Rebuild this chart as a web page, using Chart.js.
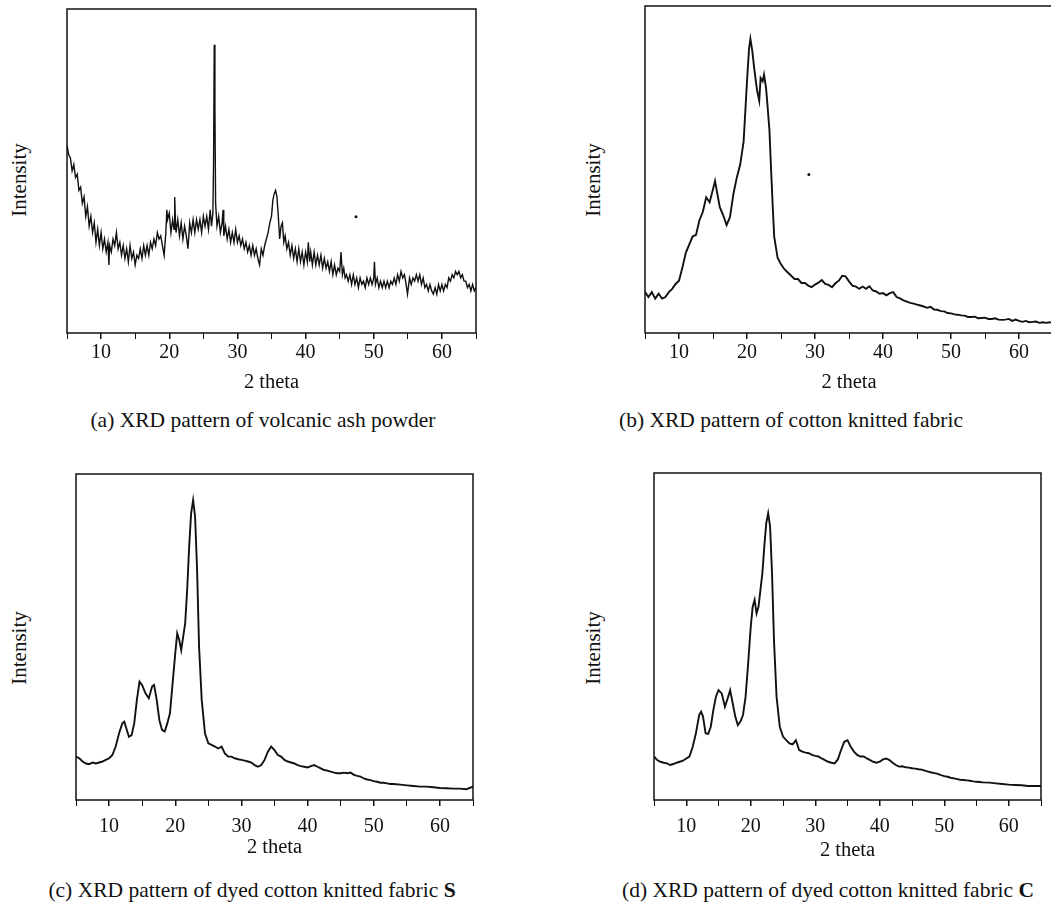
<!DOCTYPE html>
<html>
<head>
<meta charset="utf-8">
<script src="https://cdn.jsdelivr.net/npm/chart.js@4.4.1/dist/chart.umd.min.js"></script>
<style>
  html, body { margin: 0; padding: 0; background: #fff; overflow: hidden; }
  body { position: relative; width: 1051px; height: 902px; }
  canvas { position: absolute; }
  .lbl { position: absolute; font-family: "Liberation Serif", "Times New Roman", serif; color: #111; white-space: nowrap; transform: translate(-50%, -50%); }
  .ylab { font-size: 21px; transform: translate(-50%, -50%) rotate(-90deg); }
  .cap { font-size: 21.5px; }
</style>
</head>
<body>
<canvas id="chartA"></canvas>
<canvas id="chartB"></canvas>
<canvas id="chartC"></canvas>
<canvas id="chartD"></canvas>

<div class="lbl ylab" style="left:19px; top:180px;">Intensity</div>
<div class="lbl ylab" style="left:593px; top:180px;">Intensity</div>
<div class="lbl ylab" style="left:19px; top:648px;">Intensity</div>
<div class="lbl ylab" style="left:593px; top:648px;">Intensity</div>

<div class="lbl cap" style="left:263px; top:420px;">(a) XRD pattern of volcanic ash powder</div>
<div class="lbl cap" style="left:791px; top:420px;">(b) XRD pattern of cotton knitted fabric</div>
<div class="lbl cap" style="left:252px; top:890px;">(c) XRD pattern of dyed cotton knitted fabric <b>S</b></div>
<div class="lbl cap" style="left:828px; top:890px;">(d) XRD pattern of dyed cotton knitted fabric <b>C</b></div>

<script>
// (a) volcanic ash powder - noisy, read as the upper/lower edges of the band
const ashAngle = [
  5,5.25,5.5,5.75,6,6.25,6.5,6.75,7,7.25,
  7.5,7.75,8,8.25,8.5,8.75,9,9.25,9.5,9.75,
  10,10.25,10.5,10.75,11,11.15,11.25,11.5,11.75,12,
  12.25,12.5,12.75,13,13.25,13.5,13.75,14,14.25,14.5,
  14.75,15,15.25,15.5,15.75,16,16.25,16.5,16.75,17,
  17.25,17.5,17.75,18,18.25,18.5,18.75,19,19.25,19.5,
  19.65,19.75,20,20.25,20.5,20.7,20.8,20.9,21,21.25,
  21.5,21.75,22,22.25,22.5,22.75,23,23.25,23.5,23.75,
  24,24.25,24.5,24.75,25,25.25,25.5,25.75,26,26.2,
  26.4,26.5,26.6,26.7,26.8,27,27.25,27.5,27.75,27.9,
  28,28.25,28.5,28.75,29,29.25,29.5,29.75,30,30.25,
  30.5,30.75,31,31.25,31.5,31.75,32,32.25,32.5,32.75,
  33,33.25,33.5,33.75,34,34.25,34.5,34.75,35,35.2,
  35.4,35.6,35.8,36,36.2,36.4,36.6,36.8,37,37.25,
  37.5,37.75,38,38.25,38.5,38.75,39,39.25,39.5,39.75,
  40,40.25,40.4,40.6,40.75,41,41.25,41.5,41.75,42,
  42.25,42.5,42.75,43,43.25,43.5,43.75,44,44.25,44.5,
  44.75,45,45.2,45.4,45.6,45.8,46,46.25,46.5,46.75,
  47,47.25,47.5,47.75,48,48.25,48.5,48.75,49,49.25,
  49.5,49.75,50,50.1,50.25,50.5,50.75,51,51.25,51.5,
  51.75,52,52.25,52.5,52.75,53,53.25,53.5,53.75,54,
  54.25,54.5,54.75,54.95,55.25,55.5,55.75,56,56.25,56.5,
  56.75,57,57.25,57.5,57.75,58,58.25,58.5,58.75,59,
  59.25,59.5,59.75,60,60.25,60.5,60.75,61,61.25,61.5,
  61.75,62,62.25,62.5,62.75,63,63.25,63.5,63.75,64,
  64.25,64.5,64.75,65
];
const ashIntensity = [
  58,55,54,50,52,48,49,44,45,40,
  42,36,39,33,36,31,34,28,32,27,
  31,26,29,25,28,21,27,25,29,27,
  31,26,28,24,27,23,26,22,27,23,
  25,21,24,23,26,23,27,24,27,24,
  28,26,29,27,31,29,30,27,24,31,
  38,35,37,31,35,32,42,35,31,35,
  30,34,29,33,30,26,34,31,35,31,
  35,32,35,31,36,33,36,32,38,33,
  37,52,89,70,40,33,36,31,34,38,
  30,33,29,32,28,31,28,32,28,30,
  27,29,26,28,25,27,24,27,24,26,
  23,21,26,24,27,29,31,34,36,41,
  43,44,42,36,29,33,34,28,30,26,
  28,24,27,23,26,22,26,22,25,21,
  25,22,28,22,25,21,25,21,24,21,
  24,20,23,20,22,19,22,18,21,18,
  20,19,25,18,20,17,18,16,18,15,
  18,15,17,14,17,15,16,14,17,15,
  17,15,17,22,15,17,14,16,14,16,
  14,16,14,16,15,17,15,18,16,19,
  17,18,15,12,17,15,17,16,18,16,
  18,15,17,14,15,13,15,13,12,14,
  12,15,13,15,13,15,14,17,16,18,
  17,19,18,19,17,18,16,16,14,15,
  13,15,13,14
];

// (b) cotton knitted fabric
const cottonAngle = [5,5.5,6,6.5,7,7.5,8,8.5,9,9.5,10,10.5,11,11.5,12,12.5,13,13.5,14,14.5,15,15.3,15.6,16,16.5,17,17.5,18,18.5,19,19.5,20,20.3,20.5,20.8,21,21.3,21.5,21.8,22,22.3,22.5,22.8,23,23.3,23.5,23.8,24,24.5,25,25.5,26,26.5,27,27.5,28,28.5,29,29.5,30,30.5,31,31.5,32,32.5,33,33.5,34,34.5,35,35.5,36,36.5,37,37.5,38,38.5,39,39.5,40,40.5,41,41.5,42,42.5,43,43.5,44,44.5,45,45.5,46,46.5,47,47.5,48,48.5,49,49.5,50,50.5,51,51.5,52,52.5,53,53.5,54,54.5,55,55.5,56,56.5,57,57.5,58,58.5,59,59.5,60,60.5,61,61.5,62,62.5,63,63.5,64,64.5,65];
const cottonIntensity = [12.6,11,12.5,10.5,12,10.5,11,12.5,13.5,15,16,20,24.5,27,29.5,30,34.5,37,41.5,40,44,46.5,43,38.5,36,33,35.5,42.5,47.5,51.5,58.5,77,87,90,86,82,77,74,71,78,77,79,75,70,62,52,38,29.5,23,21,19.5,18.5,17.5,16.5,16.5,15.3,15.3,14.5,14,14.8,15.4,16.2,15,14.7,14,15.2,16,17.5,17.3,15.8,14.5,14.2,13.5,14.2,13.5,14.3,13,12.7,12,12.2,11.5,12.2,12.5,11,10.6,10,9.6,9.2,9,8.7,8.4,8.1,7.7,8,7.2,7.1,6.7,6.6,6.1,6,5.7,5.6,5.4,5.3,4.9,4.9,5,4.5,4.6,4.7,4.3,4.3,4.5,4.1,4,4.1,4.3,3.7,4.1,3.7,3.4,3.7,3.3,3.4,3.5,3.1,3.3,3.1,3.3,3];

// (c) dyed cotton knitted fabric S
const fabricSAngle = [5,5.5,6,6.5,7,7.5,8,8.5,9,9.5,10,10.5,11,11.5,12,12.3,12.6,13,13.4,13.8,14.2,14.6,15,15.5,16,16.5,16.8,17.2,17.6,18,18.4,18.8,19.2,19.6,20,20.3,20.6,20.9,21.2,21.5,21.8,22.1,22.4,22.7,23,23.3,23.6,24,24.5,25,25.5,26,26.5,27,27.5,28,28.5,29,29.5,30,30.5,31,31.5,32,32.5,33,33.5,34,34.5,35,35.5,36,36.5,37,37.5,38,38.5,39,39.5,40,40.5,41,41.5,42,42.5,43,43.5,44,44.5,45,45.5,46,46.5,47,47.5,48,48.5,49,49.5,50,50.5,51,51.5,52,52.5,53,54,55,56,57,58,59,60,61,62,63,64,65];
const fabricSIntensity = [13.3,12.8,11.8,11.2,11,11.5,11.2,11.5,11.8,12.3,12.8,13.8,16.4,20.4,23.5,24,22,19.4,19.9,23.5,30.7,36.3,35.2,32.7,31.2,34.8,35.3,30.7,24.5,21.5,21,23.5,26.6,35.8,45,51.1,49.1,46,50.1,54.2,64.4,77.7,87.9,92,86.9,70.6,47,30.7,20.4,17.4,16.9,16.4,15.8,16.4,14.3,13.3,13.3,12.8,12.5,12.3,12.1,11.8,11.5,10.7,10.2,10.7,12.3,14.8,16.4,15.3,13.8,13.3,12.3,11.8,11.5,11.2,10.7,10.4,10.2,10,10.4,10.7,10.2,9.7,9.2,9,8.7,8.4,8.2,8.2,8.4,8.2,8.4,7.7,7.4,7.2,6.6,6.3,6.1,5.8,5.6,5.3,5.3,5.1,4.9,4.9,4.7,4.5,4.3,4.1,4.1,3.9,3.7,3.6,3.5,3.5,3.3,4.1];

// (d) dyed cotton knitted fabric C
const fabricCAngle = [5,5.5,6,6.5,7,7.5,8,8.5,9,9.5,10,10.5,11,11.5,12,12.3,12.6,13,13.4,13.8,14.2,14.6,15,15.5,16,16.5,16.8,17.2,17.6,18,18.4,18.8,19.2,19.6,20,20.3,20.6,20.9,21.2,21.5,21.8,22.1,22.4,22.7,23,23.3,23.6,24,24.5,25,25.5,26,26.5,27,27.5,28,28.5,29,29.5,30,30.5,31,31.5,32,32.5,33,33.5,34,34.5,35,35.5,36,36.5,37,37.5,38,38.5,39,39.5,40,40.5,41,41.5,42,42.5,43,43.5,44,44.5,45,45.5,46,46.5,47,47.5,48,48.5,49,49.5,50,50.5,51,51.5,52,52.5,53,53.5,54,54.5,55,55.5,56,57,58,59,60,61,62,63,64,65];
const fabricCIntensity = [13.3,12.2,11.7,11.4,11.2,10.7,11,11.4,11.7,12,12.7,13.3,16.3,20.4,26,27,25.5,20.4,20.2,22.4,27.5,31.6,33.6,32.6,28.5,31.6,33.6,29.6,25.5,22.9,24,26,31.6,41.8,53,59.1,61.2,57.1,59.1,64.2,69.3,77.5,84.6,87.7,83.6,69.3,48.9,31.6,22.4,19.4,18.3,17.3,17,18.3,15.3,14.8,14.5,14.3,13.8,13.5,13.3,12.7,12.2,11.7,11.4,11.2,12.4,15.3,17.8,18.3,16.3,14.8,13.8,13.3,13.3,12.7,12.2,11.7,11.4,11.7,12.4,12.7,12.2,11.4,10.7,10.2,10.3,10,9.9,9.7,9.6,9.4,9.3,9,8.7,8.4,8.2,8,7.6,7.3,7.1,6.8,6.6,6.4,6.2,6.1,6,5.9,5.7,5.6,5.5,5.4,5.3,5.1,4.9,4.7,4.6,4.5,4.3,4.3,4.3];

// specks left over in the scanned figure
const ashSpeck = [[47.4, 35.9]];
const cottonSpeck = [[29.1, 48.5]];

const xTicks = [10, 20, 30, 40, 50, 60];

const ink = '#111';

const frame = {
  id: 'frame',
  afterDraw(chart) {
    const { ctx, chartArea: a } = chart;
    ctx.save();
    ctx.strokeStyle = ink;
    ctx.lineWidth = 1.5;
    ctx.strokeRect(a.left, a.top, a.right - a.left, a.bottom - a.top);
    ctx.restore();
  }
};

function makePanel(id, angles, values, specks, box, tickPad, axisH, lw) {
  const [left, top, right, bottom] = box;
  const plotW = right - left, plotH = bottom - top;
  const cv = document.getElementById(id);
  cv.width = plotW + 4;
  cv.height = plotH + 2 + axisH;
  cv.style.left = (left - 2) + 'px';
  cv.style.top = (top - 2) + 'px';

  const datasets = [{
    data: angles.map((a, i) => ({ x: a, y: values[i] })),
    borderColor: ink,
    borderWidth: lw,
    pointRadius: 0,
    tension: 0,
    fill: false
  }];
  if (specks.length) {
    datasets.push({
      type: 'scatter',
      data: specks.map(p => ({ x: p[0], y: p[1] })),
      pointRadius: 1.5,
      backgroundColor: ink,
      borderWidth: 0
    });
  }

  return new Chart(cv, {
    type: 'line',
    data: { datasets },
    options: {
      responsive: false,
      animation: false,
      layout: { padding: { left: 2, right: 2, top: 2, bottom: 0 } },
      plugins: { legend: { display: false }, tooltip: { enabled: false } },
      scales: {
        x: {
          type: 'linear',
          min: 5,
          max: 65,
          afterFit: s => { s.height = axisH; },
          border: { display: false },
          grid: {
            drawOnChartArea: false,
            drawTicks: true,
            tickLength: 6,
            color: ink,
            lineWidth: c => (xTicks.includes(c.tick.value) ? 1.5 : 1)
          },
          ticks: {
            stepSize: 5,
            autoSkip: false,
            maxRotation: 0,
            padding: tickPad,
            color: ink,
            font: { family: '"Liberation Serif", "Times New Roman", serif', size: 20 },
            callback: v => (xTicks.includes(v) ? String(v) : '')
          },
          title: {
            display: true,
            text: '2 theta',
            color: ink,
            padding: 0,
            font: { family: '"Liberation Serif", "Times New Roman", serif', size: 20.5 }
          }
        },
        y: { display: false, min: 0, max: 100 }
      }
    },
    plugins: [frame]
  });
}

makePanel('chartA', ashAngle, ashIntensity, ashSpeck, [65, 7, 478, 333], 2, 62, 1.4);
makePanel('chartB', cottonAngle, cottonIntensity, cottonSpeck, [643, 4, 1055, 333], 2, 62, 1.9);
makePanel('chartC', fabricSAngle, fabricSIntensity, [], [69, 474, 480, 800], 9, 60, 1.9);
makePanel('chartD', fabricCAngle, fabricCIntensity, [], [647, 473, 1048, 800], 9, 63, 1.9);
</script>
</body>
</html>
